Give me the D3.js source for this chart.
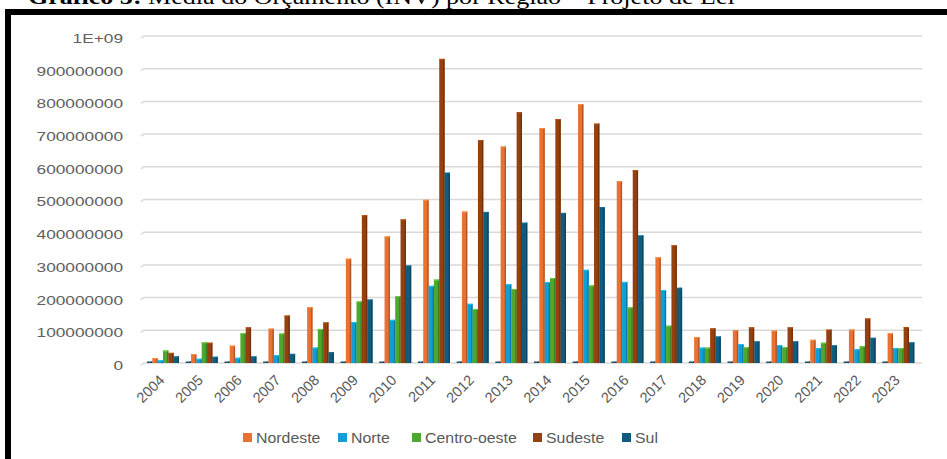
<!DOCTYPE html>
<html>
<head>
<meta charset="utf-8">
<script src="https://cdn.jsdelivr.net/npm/d3@7"></script>
<style>
  body { margin: 0; background: #fff; }
  svg { display: block; }
  text { font-family: "Liberation Sans", Arial, sans-serif; fill: #595959; }
</style>
</head>
<body>
<div id="chart"></div>
<script>
// data (values in R$)
var years = ['2004', '2005', '2006', '2007', '2008', '2009', '2010', '2011', '2012', '2013',
  '2014', '2015', '2016', '2017', '2018', '2019', '2020', '2021', '2022', '2023'];

var nordeste = [15e6, 27e6, 53e6, 105e6, 171e6, 319e6, 387e6, 499e6, 463e6, 662e6,
  718e6, 792e6, 556e6, 323e6, 79e6, 101e6, 99e6, 71e6, 102e6, 91e6];
var norte = [8e6, 13e6, 16e6, 24e6, 47e6, 125e6, 132e6, 236e6, 181e6, 241e6,
  247e6, 285e6, 248e6, 223e6, 47e6, 58e6, 55e6, 46e6, 42e6, 46e6];
var centroOeste = [38e6, 63e6, 91e6, 90e6, 104e6, 188e6, 204e6, 255e6, 165e6, 226e6,
  260e6, 237e6, 170e6, 114e6, 47e6, 48e6, 48e6, 62e6, 51e6, 45e6];
var sudeste = [31e6, 62e6, 109e6, 145e6, 124e6, 452e6, 439e6, 930e6, 682e6, 767e6,
  746e6, 732e6, 590e6, 360e6, 106e6, 109e6, 109e6, 102e6, 136e6, 110e6];
var sul = [20e6, 19e6, 20e6, 28e6, 33e6, 194e6, 298e6, 582e6, 462e6, 429e6,
  459e6, 477e6, 390e6, 230e6, 81e6, 66e6, 66e6, 54e6, 77e6, 63e6];
// empty first column of the sheet, shows up as a flat stub in each group
var vazio = years.map(function () { return 0; });

var yTicks = [0, 1e8, 2e8, 3e8, 4e8, 5e8, 6e8, 7e8, 8e8, 9e8, 1e9];

var series = [
  { name: '', values: vazio, color: '#1d4f6e', legend: false },
  { name: 'Nordeste', values: nordeste, color: '#e97132', legend: true },
  { name: 'Norte', values: norte, color: '#0f9ed5', legend: true },
  { name: 'Centro-oeste', values: centroOeste, color: '#4ea72e', legend: true },
  { name: 'Sudeste', values: sudeste, color: '#97400f', legend: true },
  { name: 'Sul', values: sul, color: '#0f5c7d', legend: true }
];

var W = 947, H = 459;

var svg = d3.select('#chart').append('svg')
  .attr('width', W)
  .attr('height', H);

svg.append('rect').attr('width', W).attr('height', H).attr('fill', '#fff');

// title, cut by the top edge like in the scan
var title = svg.append('g');
var tt = title.append('text')
  .style('font-family', '"Liberation Serif", "Times New Roman", serif')
  .style('font-size', '20px')
  .style('fill', '#000');
tt.append('tspan').style('font-weight', 'bold').text('Gráfico 5:');
tt.append('tspan').text(' Média do Orçamento (INV) por Região – Projeto de Lei');
var tw = tt.node().getComputedTextLength();
title.attr('transform', 'translate(28,4) scale(' + (707 / tw) + ',1)');

// black frame (left + top)
svg.append('path')
  .attr('d', 'M8,459 V12 H947')
  .attr('fill', 'none')
  .attr('stroke', '#000')
  .attr('stroke-width', 6);

// scales
var y = d3.scaleLinear().domain([0, 1e9]).range([363, 36]);
var x0 = d3.scaleBand().domain(years).range([143, 917]).padding(0);
var x1 = d3.scaleBand().domain(d3.range(series.length)).range([4, 36]).padding(0);

// gridlines with the small 3D slant on the left end
var grid = svg.append('g');
yTicks.forEach(function (t) {
  var yy = y(t);
  grid.append('path')
    .attr('d', 'M141,' + (yy + 2) + ' L144,' + yy + ' H922')
    .attr('fill', 'none')
    .attr('stroke', '#d9d9d9')
    .attr('stroke-width', 1.5);
});

// y labels
var yAxis = d3.axisLeft(y).tickValues(yTicks).tickSize(0).tickPadding(0)
  .tickFormat(function (d) { return d === 1e9 ? '1E+09' : d3.format('d')(d); });
var yg = svg.append('g').attr('transform', 'translate(123,3)').call(yAxis);
yg.select('.domain').remove();
yg.selectAll('text')
  .attr('x', null)
  .attr('dy', null)
  .attr('dominant-baseline', 'middle')
  .style('font-size', '13px')
  .style('fill', '#606060')
  .attr('transform', 'scale(1.33,1)');

// bars
var groups = svg.append('g').selectAll('g')
  .data(years)
  .enter().append('g')
  .attr('transform', function (d) { return 'translate(' + x0(d) + ',0)'; });

series.forEach(function (s, si) {
  groups.each(function (yr, i) {
    var v = s.values[i];
    var top = y(v);
    var h = Math.max(y(0) - top, 1.5);
    var g = d3.select(this);
    var bx = x1(si), bw = x1.bandwidth();
    g.append('rect')
      .attr('x', bx)
      .attr('y', y(0) - h)
      .attr('width', bw)
      .attr('height', h)
      .attr('fill', s.color);
    // darker side + light top edge for the 3D look
    g.append('rect')
      .attr('x', bx + bw - 1.3)
      .attr('y', y(0) - h)
      .attr('width', 1.3)
      .attr('height', h)
      .attr('fill', d3.color(s.color).darker(0.8));
    if (v > 0) {
      g.append('rect')
        .attr('x', bx)
        .attr('y', y(0) - h)
        .attr('width', bw)
        .attr('height', 1)
        .attr('fill', d3.color(s.color).brighter(0.6));
    }
  });
});

// x labels
var xg = svg.append('g');
years.forEach(function (yr) {
  var cx = x0(yr) + x0.bandwidth() / 2 + 3;
  xg.append('text')
    .attr('transform', 'translate(' + cx + ',381) rotate(-45)')
    .attr('text-anchor', 'end')
    .style('font-size', '14.5px')
    .text(yr);
});

// legend
var legendItems = series.filter(function (s) { return s.legend; });
var legendX = [243, 338, 412, 533, 622];
var lg = svg.append('g');
legendItems.forEach(function (s, i) {
  lg.append('rect')
    .attr('x', legendX[i])
    .attr('y', 433)
    .attr('width', 9)
    .attr('height', 9)
    .attr('fill', s.color);
  lg.append('text')
    .attr('transform', 'translate(' + (legendX[i] + 13) + ',443) scale(1.06,1)')
    .style('font-size', '15px')
    .text(s.name);
});
</script>
</body>
</html>
